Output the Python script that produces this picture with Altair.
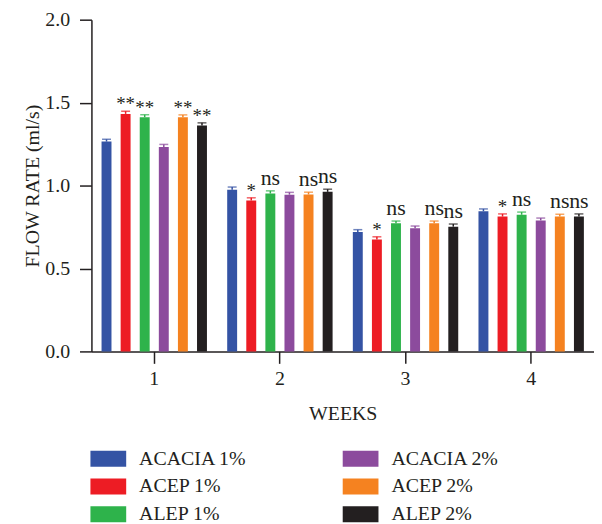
import altair as alt
import pandas as pd

weeks = ["1", "2", "3", "4"]
groups = ["ACACIA 1%", "ACEP 1%", "ALEP 1%", "ACACIA 2%", "ACEP 2%", "ALEP 2%"]
colors = ["#3453A4", "#ED1C24", "#2EB34B", "#8C4B9D", "#F58220", "#231F20"]

means = {
    "ACACIA 1%": [1.265, 0.975, 0.720, 0.845],
    "ACEP 1%":   [1.432, 0.910, 0.675, 0.813],
    "ALEP 1%":   [1.412, 0.952, 0.772, 0.824],
    "ACACIA 2%": [1.233, 0.945, 0.742, 0.790],
    "ACEP 2%":   [1.412, 0.946, 0.772, 0.813],
    "ALEP 2%":   [1.362, 0.962, 0.752, 0.813],
}
errors = {
    "ACACIA 1%": [0.014, 0.016, 0.014, 0.014],
    "ACEP 1%":   [0.016, 0.016, 0.016, 0.016],
    "ALEP 1%":   [0.015, 0.016, 0.014, 0.016],
    "ACACIA 2%": [0.015, 0.014, 0.014, 0.014],
    "ACEP 2%":   [0.014, 0.014, 0.014, 0.014],
    "ALEP 2%":   [0.016, 0.016, 0.016, 0.016],
}
signif = {
    "ACACIA 1%": ["", "", "", ""],
    "ACEP 1%":   ["**", "*", "*", "*"],
    "ALEP 1%":   ["**", "ns", "ns", "ns"],
    "ACACIA 2%": ["", "", "", ""],
    "ACEP 2%":   ["**", "ns", "ns", "ns"],
    "ALEP 2%":   ["**", "ns", "ns", "ns"],
}

rows = []
for g in groups:
    for i, w in enumerate(weeks):
        m = means[g][i]
        e = errors[g][i]
        rows.append(dict(week=w, group=g, mean=m, upper=m + e, label=signif[g][i]))
df = pd.DataFrame(rows)

FONT = "Liberation Serif"
INK = "#231F20"

color_scale = alt.Scale(domain=groups, range=colors)

x_enc = alt.X(
    "week:N",
    scale=alt.Scale(paddingInner=0, paddingOuter=0),
    axis=alt.Axis(
        title="WEEKS", labelAngle=0, tickSize=12, labelPadding=5, titlePadding=16,
    ),
)
xoff_enc = alt.XOffset(
    "group:N", scale=alt.Scale(domain=groups, paddingInner=0.48, paddingOuter=0.53)
)
color_enc = alt.Color(
    "group:N",
    scale=color_scale,
    legend=alt.Legend(
        title=None, orient="none", legendX=-1, legendY=424, columns=2,
        columnPadding=96, rowPadding=0, padding=0,
        symbolType="M-1,-0.45H1V0.45H-1Z", symbolSize=1296,
        symbolStrokeWidth=0, symbolOpacity=1, labelOffset=13,
        labelFontSize=20, labelFont=FONT, labelColor=INK, labelLimit=300,
    ),
)

base = alt.Chart(df).encode(x=x_enc, xOffset=xoff_enc)

bars = base.mark_bar().encode(
    y=alt.Y(
        "mean:Q",
        scale=alt.Scale(domain=[0, 2], nice=False, zero=True),
        axis=alt.Axis(
            title="FLOW RATE (ml/s)", values=[0, 0.5, 1.0, 1.5, 2.0], format=".1f",
            tickSize=12, labelPadding=10, titlePadding=2, grid=False,
        ),
    ),
    color=color_enc,
)

rules = base.mark_rule(strokeWidth=1.5).encode(
    y="mean:Q", y2="upper:Q",
    color=alt.Color("group:N", scale=color_scale, legend=None),
)
caps = base.mark_tick(orient="horizontal", size=9, thickness=1.5).encode(
    y="upper:Q",
    color=alt.Color("group:N", scale=color_scale, legend=None),
)

stars = base.transform_filter("datum.label == '*' || datum.label == '**'").mark_text(
    font=FONT, fontSize=19, color=INK, baseline="alphabetic", dy=-1
).encode(y="upper:Q", text="label:N")

ns = base.transform_filter("datum.label == 'ns'").mark_text(
    font=FONT, fontSize=22, color=INK, baseline="alphabetic", dy=-6
).encode(y="upper:Q", text="label:N")

chart = (
    alt.layer(bars, rules, caps, stars, ns)
    .properties(
        width=506, height=334,
        autosize=alt.AutoSizeParams(type="none"),
        padding={"left": 84, "top": 10, "right": 0, "bottom": 172},
    )
    .configure_view(stroke=None)
    .configure_axis(
        labelFont=FONT, titleFont=FONT, labelFontSize=20, titleFontSize=20,
        titleFontWeight="normal", labelColor=INK, titleColor=INK,
        domainColor=INK, tickColor=INK, domainWidth=1.5, tickWidth=1.5,
    )
)

chart.save("out.html", embed_options={"renderer": "svg", "actions": False})
